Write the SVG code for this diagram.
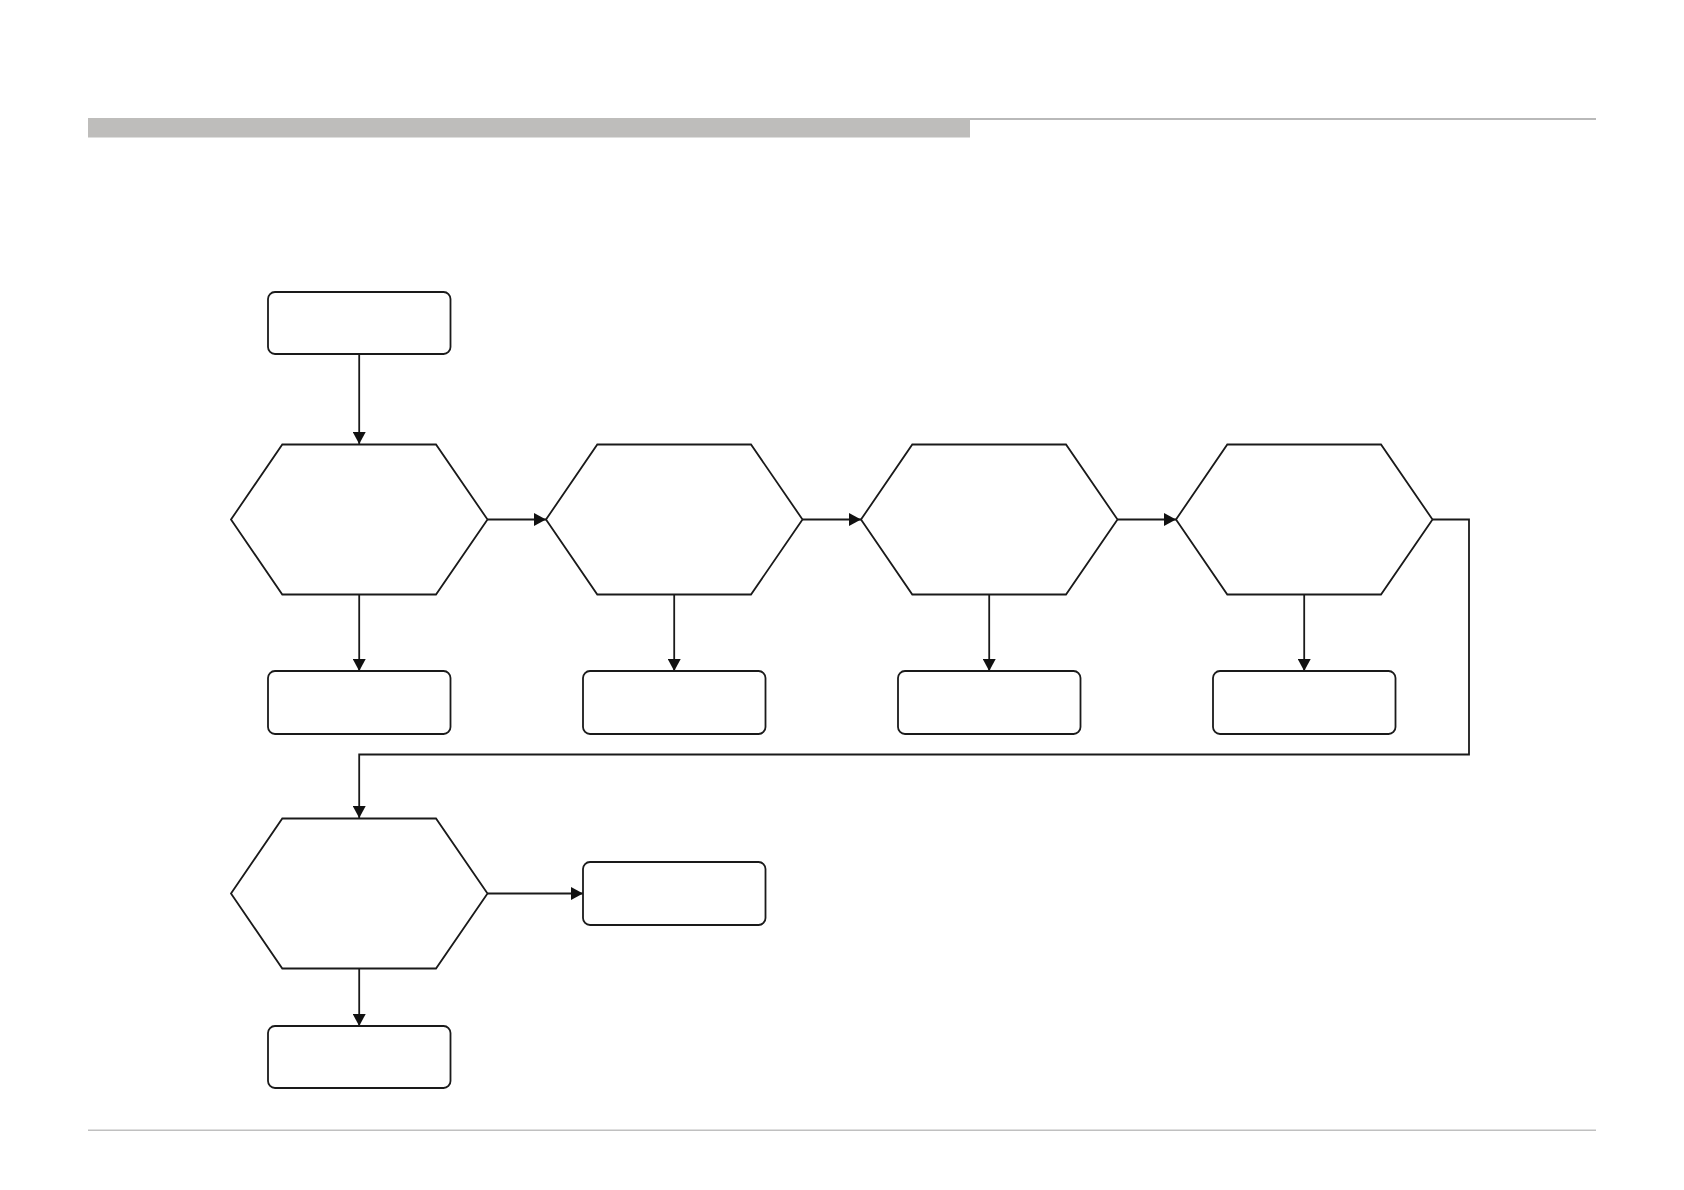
<svg xmlns="http://www.w3.org/2000/svg" width="1684" height="1190" viewBox="0 0 1684 1190">
<defs>
<style>
.box{fill:#fff;stroke:#1a1a1a;stroke-width:1.8}
.hex{fill:#fff;stroke:#1a1a1a;stroke-width:1.8}
.conn{fill:none;stroke:#1a1a1a;stroke-width:1.8}
</style>
<marker id="arr" viewBox="0 0 12 13" refX="12" refY="6.5" markerWidth="12" markerHeight="13" markerUnits="userSpaceOnUse" orient="auto">
<path d="M0,0 L12,6.5 L0,13 Z" fill="#111"/>
</marker>
</defs>
<rect width="1684" height="1190" fill="#fff"/>
<g id="header">
<rect x="88" y="118" width="882" height="19.5" fill="#bebdbb"/>
<rect x="970" y="118" width="626" height="2" fill="#b9b9b9"/>
</g>
<g id="footer">
<rect x="88" y="1129.5" width="1508" height="1.5" fill="#c0c0c0"/>
</g>
<g id="connectors">
<path class="conn" d="M359.2,354 V444" marker-end="url(#arr)"/>
<path class="conn" d="M487.5,519.5 H546" marker-end="url(#arr)"/>
<path class="conn" d="M802.5,519.5 H861" marker-end="url(#arr)"/>
<path class="conn" d="M1117.5,519.5 H1176" marker-end="url(#arr)"/>
<path class="conn" d="M359.2,594.5 V671" marker-end="url(#arr)"/>
<path class="conn" d="M674.2,594.5 V671" marker-end="url(#arr)"/>
<path class="conn" d="M989.2,594.5 V671" marker-end="url(#arr)"/>
<path class="conn" d="M1304.2,594.5 V671" marker-end="url(#arr)"/>
<path class="conn" d="M1432.5,519.5 H1469 V754.5 H359.2 V818" marker-end="url(#arr)"/>
<path class="conn" d="M487.5,893.5 H583" marker-end="url(#arr)"/>
<path class="conn" d="M359.2,968.5 V1026" marker-end="url(#arr)"/>
</g>
<g id="start"><rect class="box" x="268" y="292" width="182.5" height="62" rx="7"/></g>
<g id="decision1"><polygon class="hex" points="231,519.5 282.3,444.5 436,444.5 487.5,519.5 436,594.5 282.3,594.5"/></g>
<g id="decision2"><polygon class="hex" points="546,519.5 597.3,444.5 751,444.5 802.5,519.5 751,594.5 597.3,594.5"/></g>
<g id="decision3"><polygon class="hex" points="861,519.5 912.3,444.5 1066,444.5 1117.5,519.5 1066,594.5 912.3,594.5"/></g>
<g id="decision4"><polygon class="hex" points="1176,519.5 1227.3,444.5 1381,444.5 1432.5,519.5 1381,594.5 1227.3,594.5"/></g>
<g id="result1"><rect class="box" x="268" y="671" width="182.5" height="63" rx="7"/></g>
<g id="result2"><rect class="box" x="583" y="671" width="182.5" height="63" rx="7"/></g>
<g id="result3"><rect class="box" x="898" y="671" width="182.5" height="63" rx="7"/></g>
<g id="result4"><rect class="box" x="1213" y="671" width="182.5" height="63" rx="7"/></g>
<g id="decision5"><polygon class="hex" points="231,893.5 282.3,818.5 436,818.5 487.5,893.5 436,968.5 282.3,968.5"/></g>
<g id="result5"><rect class="box" x="583" y="862" width="182.5" height="63" rx="7"/></g>
<g id="result6"><rect class="box" x="268" y="1026" width="182.5" height="62" rx="7"/></g>
</svg>
